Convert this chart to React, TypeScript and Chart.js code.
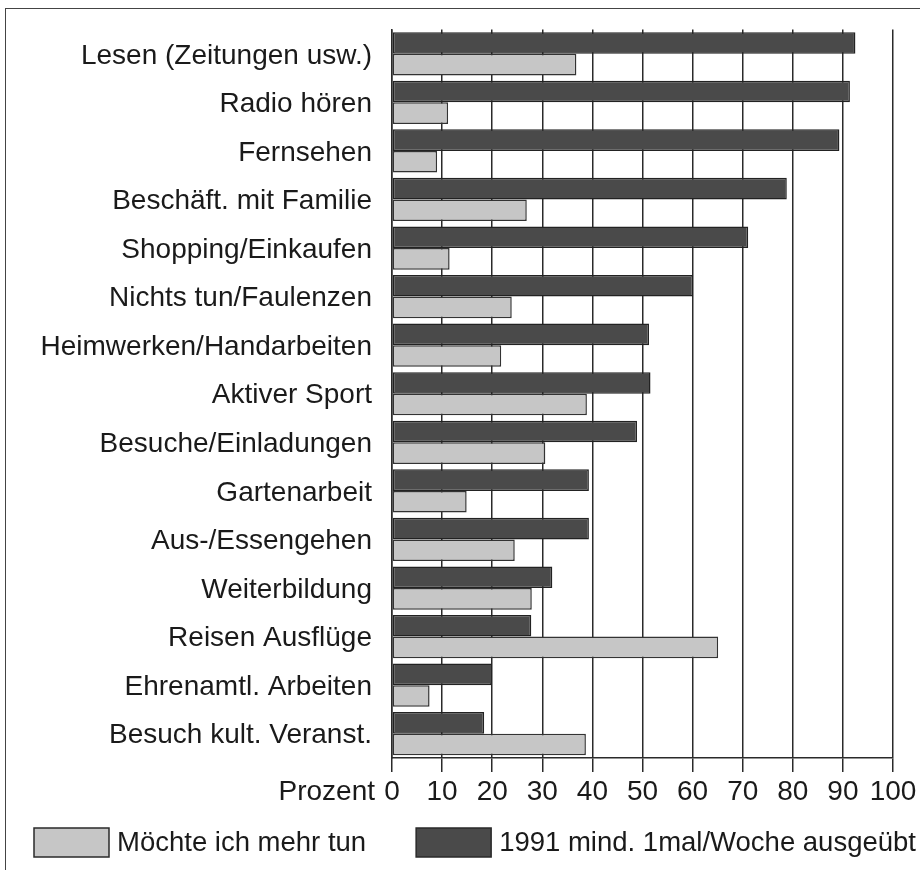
import React, { useEffect, useRef } from "react";
import { Chart, registerables } from "chart.js";

Chart.register(...registerables);

const categories = [
  "Lesen (Zeitungen usw.)",
  "Radio hören",
  "Fernsehen",
  "Beschäft. mit Familie",
  "Shopping/Einkaufen",
  "Nichts tun/Faulenzen",
  "Heimwerken/Handarbeiten",
  "Aktiver Sport",
  "Besuche/Einladungen",
  "Gartenarbeit",
  "Aus-/Essengehen",
  "Weiterbildung",
  "Reisen Ausflüge",
  "Ehrenamtl. Arbeiten",
  "Besuch kult. Veranst.",
];

const practiced1991 = [92.5, 91.4, 89.3, 78.8, 71.1, 60.1, 51.3, 51.6, 48.9, 39.3, 39.3, 32.0, 27.8, 19.9, 18.4];
const wantMore = [36.8, 11.2, 9.0, 26.9, 11.5, 23.9, 21.8, 38.9, 30.6, 14.9, 24.5, 27.9, 65.1, 7.5, 38.7];

const seriesNames = ["1991 mind. 1mal/Woche ausgeübt", "Möchte ich mehr tun"];
const seriesColors = ["#4a4a4a", "#c6c6c6"];
const xTicks = [0, 10, 20, 30, 40, 50, 60, 70, 80, 90, 100];
const axisTitle = "Prozent";

const FONT = "'Liberation Sans', Arial, sans-serif";
const FS = 28;
const LEGEND_FS = 27.5;
const TICK_LEN = 14;
const TICK_PAD = 3;

const prozentPlugin = {
  id: "prozent",
  afterDraw(chart: any) {
    const xs = chart.scales.x;
    const ctx = chart.ctx;
    ctx.save();
    ctx.font = `${FS}px ${FONT}`;
    ctx.fillStyle = "#1a1a1a";
    ctx.textAlign = "right";
    ctx.textBaseline = "middle";
    ctx.fillText(axisTitle, xs.getPixelForValue(0) - 17, xs.top + TICK_LEN + TICK_PAD + (FS * 1.2) / 2);
    ctx.restore();
  },
};

const legendPlugin = {
  id: "customLegend",
  afterDraw(chart: any) {
    const ctx = chart.ctx;
    const ds = chart.data.datasets;
    const order = [1, 0];
    let x = 34;
    const boxW = 75;
    const boxH = 29;
    const boxTop = 828;
    ctx.save();
    ctx.font = `${LEGEND_FS}px ${FONT}`;
    ctx.textBaseline = "middle";
    ctx.textAlign = "left";
    order.forEach((i) => {
      ctx.fillStyle = ds[i].backgroundColor;
      ctx.fillRect(x, boxTop, boxW, boxH);
      ctx.strokeStyle = "#2a2a2a";
      ctx.lineWidth = 1.5;
      ctx.strokeRect(x, boxTop, boxW, boxH);
      const tx = x + boxW + 8;
      ctx.fillStyle = "#1a1a1a";
      ctx.fillText(ds[i].label, tx, boxTop + boxH / 2 + 1);
      x = tx + ctx.measureText(ds[i].label).width + 50;
    });
    ctx.restore();
  },
};

export default function App() {
  const ref = useRef<HTMLCanvasElement>(null);
  useEffect(() => {
    const chart = new Chart(ref.current!, {
      type: "bar",
      data: {
        labels: categories,
        datasets: [
          {
            label: seriesNames[0],
            data: practiced1991,
            backgroundColor: seriesColors[0],
            borderColor: "#222",
            borderWidth: 1.5,
            borderSkipped: false,
          },
          {
            label: seriesNames[1],
            data: wantMore,
            backgroundColor: seriesColors[1],
            borderColor: "#333",
            borderWidth: 1.5,
            borderSkipped: false,
          },
        ],
      },
      options: {
        indexAxis: "y",
        animation: false,
        responsive: false,
        maintainAspectRatio: false,
        layout: { padding: { top: 29.5, left: 0, right: 0, bottom: 58 } },
        datasets: { bar: { categoryPercentage: 0.89, barPercentage: 1.0 } },
        scales: {
          x: {
            min: 0,
            max: 100,
            afterBuildTicks(scale: any) {
              scale.ticks = xTicks.map((v) => ({ value: v }));
            },
            afterFit(scale: any) {
              scale.height = 54;
              scale.paddingLeft = 0;
              scale.paddingRight = 27;
            },
            grid: {
              color: "#2a2a2a",
              lineWidth: 1.5,
              tickLength: TICK_LEN,
              drawTicks: true,
            },
            border: { display: true, color: "#2a2a2a", width: 1.5 },
            ticks: {
              padding: TICK_PAD,
              color: "#1a1a1a",
              font: { family: FONT, size: FS },
              maxRotation: 0,
              autoSkip: false,
            },
          },
          y: {
            afterFit(scale: any) {
              scale.width = 392;
              scale.paddingTop = 0;
              scale.paddingBottom = 0;
            },
            grid: { display: false, drawTicks: false },
            border: { display: true, color: "#2a2a2a", width: 1.5 },
            ticks: {
              padding: 20,
              labelOffset: 2,
              color: "#1a1a1a",
              font: { family: FONT, size: FS },
              autoSkip: false,
            },
          },
        },
        plugins: {
          legend: { display: false },
          tooltip: { enabled: false },
        },
      },
      plugins: [prozentPlugin, legendPlugin],
    });
    return () => chart.destroy();
  }, []);

  return (
    <div style={{ position: "fixed", left: 0, top: 0, width: 920, height: 870, background: "#fff" }}>
      <div
        style={{
          position: "absolute",
          left: 5,
          top: 8,
          right: -10,
          bottom: -10,
          borderLeft: "1.5px solid #444",
          borderTop: "1.5px solid #444",
        }}
      />
      <canvas ref={ref} width={920} height={870} style={{ position: "absolute", left: 0, top: 0 }} />
    </div>
  );
}
